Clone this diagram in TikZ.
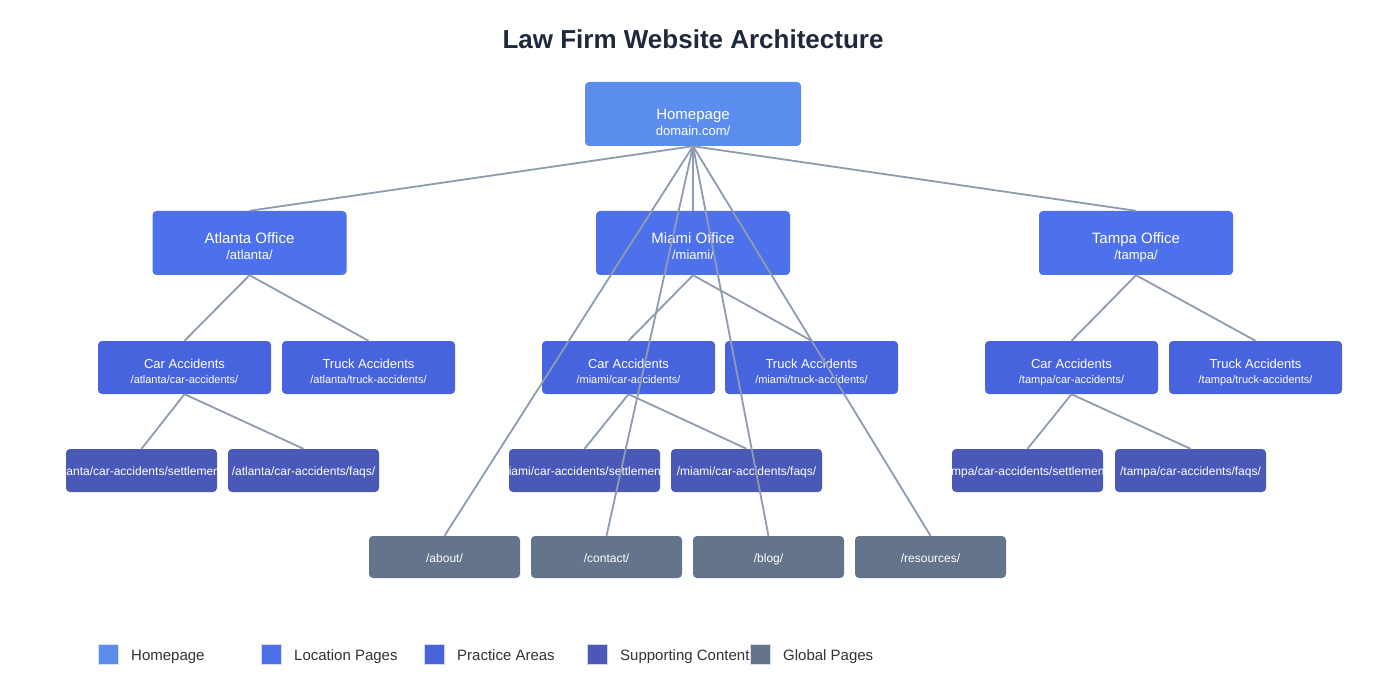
\documentclass[tikz,border=0pt]{standalone}
\usepackage{fontspec}
\setmainfont{Liberation Sans}
\usetikzlibrary{positioning}

\definecolor{homeblue}{HTML}{5B8DEF}
\definecolor{locblue}{HTML}{4C71EA}
\definecolor{pracblue}{HTML}{4763DE}
\definecolor{suppblue}{HTML}{4A58B8}
\definecolor{globgray}{HTML}{64748B}
\definecolor{edgegray}{HTML}{8E9BB0}
\definecolor{titleink}{HTML}{1E293B}
\definecolor{keyink}{HTML}{333333}

\tikzset{
  page/.style={rounded corners=4pt, inner sep=0pt, draw=none},
  homebox/.style={page, fill=homeblue, minimum width=216pt, minimum height=64pt},
  officebox/.style={page, fill=locblue, minimum width=194pt, minimum height=64pt},
  areabox/.style={page, fill=pracblue, minimum width=173pt, minimum height=53pt},
  supportbox/.style={page, fill=suppblue, minimum width=151pt, minimum height=43pt},
  globalbox/.style={page, fill=globgray, minimum width=151pt, minimum height=42pt},
  pagetxt/.style={anchor=base, inner sep=0pt, text=white},
  headtxt/.style={pagetxt, font=\fontsize{15}{18}\selectfont},
  urltxt/.style={pagetxt, font=\fontsize{13}{15}\selectfont},
  areatxt/.style={pagetxt, font=\fontsize{13}{15}\selectfont},
  areaurl/.style={pagetxt, font=\fontsize{11}{13}\selectfont},
  leaftxt/.style={pagetxt, font=\fontsize{12}{14}\selectfont},
  link/.style={edgegray, line width=1.8pt},
  keybox/.style={fill=#1, draw=white!75!#1, line width=0.8pt, minimum size=20pt, inner sep=0pt},
  keytxt/.style={anchor=base west, inner sep=0pt, text=keyink, font=\fontsize{15}{18}\selectfont},
}

\begin{document}
\begin{tikzpicture}[x=1pt, y=-1pt]
\useasboundingbox[fill=white] (0,0) rectangle (1388,700);

% Rows (y of box centres)
\def\yhome{114}
\def\yoffice{243}
\def\yarea{367.5}
\def\yleaf{470.5}
\def\yglobal{557}

% Title
\node[anchor=base, inner sep=0pt, text=titleink, font=\bfseries\fontsize{26}{30}\selectfont]
  (heading) at (693,49) {Law Firm Website Architecture};

% Homepage
\node[homebox] (home) at (693,\yhome) {};
\node[headtxt] (home-t) at ([yshift=-5.3pt]home) {Homepage};
\node[urltxt] (home-u) at ([yshift=-22pt]home) {domain.com/};

% Offices
\node[officebox] (atl) at (249.5,\yoffice) {};
\node[headtxt] (atl-t) at ([yshift=-0.5pt]atl) {Atlanta Office};
\node[urltxt] (atl-u) at ([yshift=-16.5pt]atl) {/atlanta/};

\node[officebox] (mia) at (693,\yoffice) {};
\node[headtxt] (mia-t) at ([yshift=-0.5pt]mia) {Miami Office};
\node[urltxt] (mia-u) at ([yshift=-16.5pt]mia) {/miami/};

\node[officebox] (tpa) at (1136,\yoffice) {};
\node[headtxt] (tpa-t) at ([yshift=-0.5pt]tpa) {Tampa Office};
\node[urltxt] (tpa-u) at ([yshift=-16.5pt]tpa) {/tampa/};

% Practice areas
\node[areabox] (atl-car) at (184.5,\yarea) {};
\node[areatxt] at ([yshift=-0.5pt]atl-car) {Car Accidents};
\node[areaurl] at ([yshift=-15.5pt]atl-car) {/atlanta/car-accidents/};
\node[areabox] (atl-truck) at (368.5,\yarea) {};
\node[areatxt] at ([yshift=-0.5pt]atl-truck) {Truck Accidents};
\node[areaurl] at ([yshift=-15.5pt]atl-truck) {/atlanta/truck-accidents/};

\node[areabox] (mia-car) at (628.5,\yarea) {};
\node[areatxt] at ([yshift=-0.5pt]mia-car) {Car Accidents};
\node[areaurl] at ([yshift=-15.5pt]mia-car) {/miami/car-accidents/};
\node[areabox] (mia-truck) at (811.5,\yarea) {};
\node[areatxt] at ([yshift=-0.5pt]mia-truck) {Truck Accidents};
\node[areaurl] at ([yshift=-15.5pt]mia-truck) {/miami/truck-accidents/};

\node[areabox] (tpa-car) at (1071.5,\yarea) {};
\node[areatxt] at ([yshift=-0.5pt]tpa-car) {Car Accidents};
\node[areaurl] at ([yshift=-15.5pt]tpa-car) {/tampa/car-accidents/};
\node[areabox] (tpa-truck) at (1255.5,\yarea) {};
\node[areatxt] at ([yshift=-0.5pt]tpa-truck) {Truck Accidents};
\node[areaurl] at ([yshift=-15.5pt]tpa-truck) {/tampa/truck-accidents/};

% Supporting content (text cut at the box edge)
\foreach \n/\x/\t in {atl-set/141.5/{/atlanta/car-accidents/settlements/},
                      atl-faq/303.5/{/atlanta/car-accidents/faqs/},
                      mia-set/584.5/{/miami/car-accidents/settlements/},
                      mia-faq/746.5/{/miami/car-accidents/faqs/},
                      tpa-set/1027.5/{/tampa/car-accidents/settlements/},
                      tpa-faq/1190.5/{/tampa/car-accidents/faqs/}} {
  \node[supportbox] (\n) at (\x,\yleaf) {};
  \begin{scope}
    \clip (\n.south west) rectangle (\n.north east);
    \node[leaftxt] at ([yshift=-5pt]\n) {\t};
  \end{scope}
}

% Global pages
\foreach \n/\x in {about/444.5, contact/606.5, blog/768.5, resources/930.5} {
  \node[globalbox] (\n) at (\x,\yglobal) {};
  \node[leaftxt] at ([yshift=-5pt]\n) {/\n/};
}

% Links
\foreach \t in {atl, mia, tpa, about, contact, blog, resources}
  \draw[link] (home.south) -- (\t.north);
\foreach \o in {atl, mia, tpa} {
  \draw[link] (\o.south) -- (\o-car.north);
  \draw[link] (\o.south) -- (\o-truck.north);
  \draw[link] (\o-car.south) -- (\o-set.north);
  \draw[link] (\o-car.south) -- (\o-faq.north);
}

% Legend
\foreach \i/\c/\t in {0/homeblue/Homepage, 1/locblue/Location Pages, 2/pracblue/Practice Areas,
                      3/suppblue/Supporting Content, 4/globgray/Global Pages} {
  \node[keybox=\c] (key\i) at ({108.5+163*\i},654.5) {};
  \node[keytxt] (keytxt\i) at ({131+163*\i},660) {\t};
}

\end{tikzpicture}
\end{document}
